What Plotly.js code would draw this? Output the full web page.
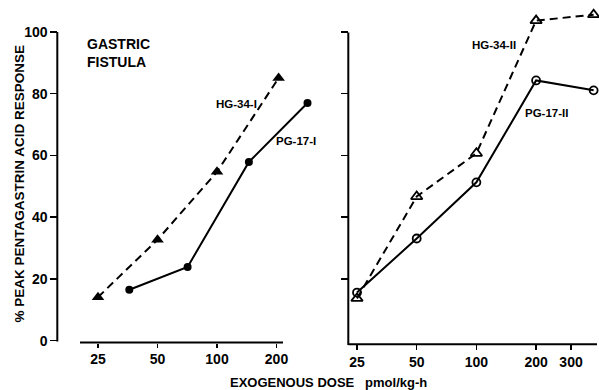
<!DOCTYPE html>
<html>
<head>
<meta charset="utf-8">
<script src="https://cdn.plot.ly/plotly-3.0.1.min.js"></script>
<style>html,body{margin:0;padding:0;background:#fff;}#chart{width:599px;height:390px;}</style>
</head>
<body>
<div id="chart"></div>
<script>
// ---- data ----
const doseHG1 = [25, 50, 100, 205];
const respHG1 = [14.1, 32.7, 54.7, 85.1];
const dosePG1 = [36, 71, 145, 287];
const respPG1 = [16.5, 23.9, 57.9, 77.0];

const doseHG2 = [25, 50, 100, 200, 390];
const respHG2 = [13.7, 46.7, 60.7, 103.7, 105.6];
const dosePG2 = [25, 50, 100, 200, 390];
const respPG2 = [15.6, 33.1, 51.3, 84.3, 81.1];

const xTicksLeft = [25, 50, 100, 200];
const xTicksRight = [25, 50, 100, 200, 300];
const yTicks = [0, 20, 40, 60, 80, 100];
const yTicksRight = [20, 40, 60, 80, 100];

const seriesNames = ['HG-34-I', 'PG-17-I', 'HG-34-II', 'PG-17-II'];
const yTitle = '% PEAK PENTAGASTRIN ACID RESPONSE';
const xTitle = 'EXOGENOUS DOSE\u00a0\u00a0\u00a0pmol/kg-h';
const panelTitle = 'GASTRIC<br>FISTULA';

// ---- layout helpers (pixel -> paper) ----
const W = 599, H = 390;
const px = v => v / W;
const py = v => 1 - v / H;
const FONT = 'Liberation Sans, Arial, sans-serif';
const L2 = Math.log10(2);

// y scale: 0 at 340.7px, 3.087 px per unit
const yPxTop = 8, yPxBot = 350;
const yRange = [(340.7 - yPxBot) / 3.087, (340.7 - yPxTop) / 3.087];

// left x: 25 at 98px, 59.5 px per doubling
const lx0 = 57.3, lx1 = 320;
const lRange = [Math.log10(25) + (lx0 - 98) / 59.5 * L2, Math.log10(25) + (lx1 - 98) / 59.5 * L2];
// right x: 25 at 357px, 59.7 px per doubling
const rx0 = 348.3, rx1 = 599;
const rRange = [Math.log10(25) + (rx0 - 357) / 59.7 * L2, Math.log10(25) + (rx1 - 357) / 59.7 * L2];

const lineW = 2;
const traces = [
  {x: doseHG1, y: respHG1, name: seriesNames[0], xaxis: 'x', yaxis: 'y', mode: 'lines+markers',
   line: {color: '#000', width: lineW, dash: '8px,5px'}, marker: {symbol: 'triangle-up', size: 11, color: '#000'}, cliponaxis: false},
  {x: dosePG1, y: respPG1, name: seriesNames[1], xaxis: 'x', yaxis: 'y', mode: 'lines+markers',
   line: {color: '#000', width: lineW}, marker: {symbol: 'circle', size: 8, color: '#000'}, cliponaxis: false},
  {x: doseHG2, y: respHG2, name: seriesNames[2], xaxis: 'x2', yaxis: 'y2', mode: 'lines+markers',
   line: {color: '#000', width: lineW, dash: '8px,5px'},
   marker: {symbol: 'triangle-up-open', size: 10, color: '#000', line: {width: 1.8, color: '#000'}}, cliponaxis: false},
  {x: dosePG2, y: respPG2, name: seriesNames[3], xaxis: 'x2', yaxis: 'y2', mode: 'lines+markers',
   line: {color: '#000', width: lineW},
   marker: {symbol: 'circle-open', size: 8, color: '#000', line: {width: 1.8, color: '#000'}}, cliponaxis: false}
];

const tickFont = {family: FONT, size: 14, color: '#000', weight: 'bold'};
const axCommon = {showgrid: false, zeroline: false, showline: false, ticks: 'outside', tickcolor: '#000', tickwidth: 1.5, fixedrange: true};

const layout = {
  width: W, height: H,
  margin: {l: 0, r: 0, t: 0, b: 0, pad: 0},
  paper_bgcolor: '#fff', plot_bgcolor: 'rgba(0,0,0,0)',
  showlegend: false,
  font: {family: FONT, color: '#000'},
  xaxis: Object.assign({}, axCommon, {type: 'log', domain: [px(lx0), px(lx1)], range: lRange,
    anchor: 'free', position: py(342.5), tickvals: xTicksLeft, ticktext: xTicksLeft.map(String),
    ticklen: 4, tickfont: tickFont}),
  xaxis2: Object.assign({}, axCommon, {type: 'log', domain: [px(rx0), px(rx1)], range: rRange,
    anchor: 'free', position: py(344.3), tickvals: xTicksRight, ticktext: xTicksRight.map(String),
    ticklen: 5, tickfont: tickFont}),
  yaxis: Object.assign({}, axCommon, {domain: [py(yPxBot), py(yPxTop)], range: yRange,
    anchor: 'free', position: px(57.3), tickvals: yTicks, ticktext: yTicks.map(String),
    ticklen: 7, tickfont: tickFont}),
  yaxis2: Object.assign({}, axCommon, {domain: [py(yPxBot), py(yPxTop)], range: yRange,
    anchor: 'free', position: px(348.3), tickvals: yTicksRight, showticklabels: false,
    ticklen: 7}),
  shapes: [
    {type: 'line', xref: 'paper', yref: 'paper', x0: px(57.3), x1: px(57.3), y0: py(32), y1: py(341.5), line: {color: '#000', width: 2}},
    {type: 'line', xref: 'paper', yref: 'paper', x0: px(80), x1: px(283), y0: py(342.5), y1: py(342.5), line: {color: '#000', width: 2}},
    {type: 'line', xref: 'paper', yref: 'paper', x0: px(348.3), x1: px(348.3), y0: py(32.5), y1: py(345), line: {color: '#000', width: 2}},
    {type: 'line', xref: 'paper', yref: 'paper', x0: px(348.3), x1: px(597), y0: py(344.3), y1: py(344.3), line: {color: '#000', width: 2}}
  ],
  annotations: [
    {text: yTitle, xref: 'paper', yref: 'paper', x: px(18.5), y: py(184), textangle: -90, showarrow: false,
     xanchor: 'center', yanchor: 'middle', font: {family: FONT, size: 13.5, weight: 'bold', color: '#000'}},
    {text: xTitle, xref: 'paper', yref: 'paper', x: px(328), y: py(382), showarrow: false,
     xanchor: 'center', yanchor: 'middle', font: {family: FONT, size: 13, weight: 'bold', color: '#000'}},
    {text: panelTitle, xref: 'paper', yref: 'paper', x: px(85), y: py(53), showarrow: false, align: 'left',
     xanchor: 'left', yanchor: 'middle', font: {family: FONT, size: 14, weight: 'bold', color: '#000'}},
    {text: seriesNames[0], xref: 'paper', yref: 'paper', x: px(236), y: py(104), showarrow: false,
     xanchor: 'center', yanchor: 'middle', font: {family: FONT, size: 11.5, weight: 'bold', color: '#000'}},
    {text: seriesNames[1], xref: 'paper', yref: 'paper', x: px(296), y: py(141), showarrow: false,
     xanchor: 'center', yanchor: 'middle', font: {family: FONT, size: 11.5, weight: 'bold', color: '#000'}},
    {text: seriesNames[2], xref: 'paper', yref: 'paper', x: px(494), y: py(45), showarrow: false,
     xanchor: 'center', yanchor: 'middle', font: {family: FONT, size: 11.5, weight: 'bold', color: '#000'}},
    {text: seriesNames[3], xref: 'paper', yref: 'paper', x: px(546), y: py(113), showarrow: false,
     xanchor: 'center', yanchor: 'middle', font: {family: FONT, size: 11.5, weight: 'bold', color: '#000'}}
  ]
};

Plotly.newPlot('chart', traces, layout, {displayModeBar: false, staticPlot: true});
</script>
</body>
</html>
